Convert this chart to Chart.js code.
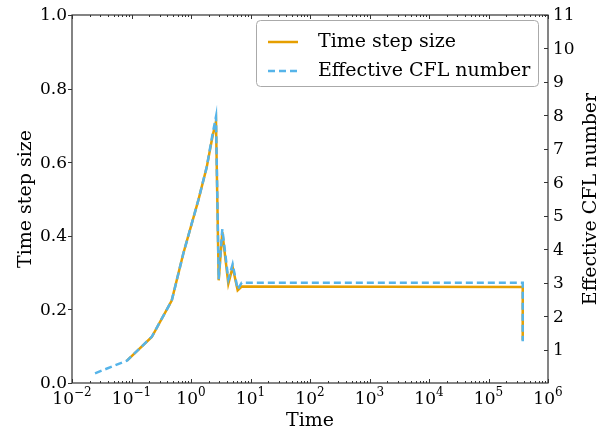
<!DOCTYPE html>
<html><head><meta charset="utf-8">
<script src="https://cdn.jsdelivr.net/npm/chart.js@4/dist/chart.umd.min.js"></script>
<style>html,body{margin:0;padding:0;background:#fff}#wrap{width:610px;height:437px;position:relative}</style>
</head><body><div id="wrap"><canvas id="c"></canvas></div>
<script>
const times = [0.0244, 0.084, 0.219, 0.474, 0.743, 1.33, 1.84, 2.31, 2.63, 2.92, 3.36, 4.24, 5.01, 6.09, 7.11, 3.76e5, 3.76e5];
const stepSize = [null, 0.061, 0.125, 0.224, 0.352, 0.497, 0.587, 0.672, 0.71, 0.279, 0.41, 0.27, 0.315, 0.252, 0.262, 0.261, 0.116];
const cflNumber = [0.29, 0.67, 1.38, 2.46, 3.87, 5.47, 6.46, 7.45, 7.96, 3.1, 4.6, 3.1, 3.55, 2.8, 3.0, 3.0, 1.25];
const xTickExponents = [-2, -1, 0, 1, 2, 3, 4, 5, 6];
const leftTicks = [0.0, 0.2, 0.4, 0.6, 0.8, 1.0];
const rightTicks = [1, 2, 3, 4, 5, 6, 7, 8, 9, 10, 11];
const seriesNames = ['Time step size', 'Effective CFL number'];
const axisTitles = {x: 'Time', y: 'Time step size', y2: 'Effective CFL number'};

const ORANGE = '#E69F00', BLUE = '#56B4E9';
const SERIF = "'DejaVu Serif', 'Liberation Serif', serif";

const decor = {
  id: 'decor',
  afterDraw(chart) {
    const ctx = chart.ctx, a = chart.chartArea;
    const sx = chart.scales.x, sy = chart.scales.y, sy2 = chart.scales.y2;
    ctx.save();
    ctx.strokeStyle = '#333';
    ctx.lineWidth = 1.2;
    ctx.strokeRect(a.left, a.top, a.right - a.left, a.bottom - a.top);
    ctx.lineWidth = 1;
    ctx.beginPath();
    // x ticks (inward, top & bottom)
    for (const e of xTickExponents) {
      const px = Math.round(sx.getPixelForValue(Math.pow(10, e))) + 0.5;
      ctx.moveTo(px, a.bottom); ctx.lineTo(px, a.bottom - 4);
      ctx.moveTo(px, a.top); ctx.lineTo(px, a.top + 4);
      if (e < 6) {
        for (let m = 2; m <= 9; m++) {
          const mx = Math.round(sx.getPixelForValue(m * Math.pow(10, e))) + 0.5;
          ctx.moveTo(mx, a.bottom); ctx.lineTo(mx, a.bottom - 2);
          ctx.moveTo(mx, a.top); ctx.lineTo(mx, a.top + 2);
        }
      }
    }
    // left ticks (outward)
    for (const v of leftTicks) {
      const py = Math.round(sy.getPixelForValue(v)) + 0.5;
      ctx.moveTo(a.left - 4, py); ctx.lineTo(a.left, py);
    }
    // right ticks (inward)
    for (const v of rightTicks) {
      const py = Math.round(sy2.getPixelForValue(v)) + 0.5;
      ctx.moveTo(a.right - 4, py); ctx.lineTo(a.right, py);
    }
    ctx.stroke();

    ctx.fillStyle = '#000';
    // x tick labels: 10^e
    for (const e of xTickExponents) {
      const px = sx.getPixelForValue(Math.pow(10, e));
      ctx.font = '17px ' + SERIF;
      const base = '10', sup = String(e).replace('-', '\u2212');
      const w1 = ctx.measureText(base).width;
      ctx.font = '12px ' + SERIF;
      const w2 = ctx.measureText(sup).width;
      const x0 = px - (w1 + w2) / 2;
      ctx.textAlign = 'left'; ctx.textBaseline = 'alphabetic';
      ctx.font = '17px ' + SERIF;
      ctx.fillText(base, x0, 404);
      ctx.font = '12px ' + SERIF;
      ctx.fillText(sup, x0 + w1, 396);
    }
    ctx.font = '17px ' + SERIF;
    ctx.textBaseline = 'middle';
    ctx.textAlign = 'right';
    for (const v of leftTicks) ctx.fillText(v.toFixed(1), a.left - 5, sy.getPixelForValue(v) + 1);
    ctx.textAlign = 'left';
    for (const v of rightTicks) ctx.fillText(String(v), a.right + 5, sy2.getPixelForValue(v) + 1);

    // axis titles
    ctx.font = '19px ' + SERIF;
    ctx.textAlign = 'center';
    ctx.fillText(axisTitles.x, (a.left + a.right) / 2, 421);
    const cy = (a.top + a.bottom) / 2;
    ctx.save(); ctx.translate(26, cy); ctx.rotate(-Math.PI / 2); ctx.fillText(axisTitles.y, 0, 0); ctx.restore();
    ctx.save(); ctx.translate(591, cy); ctx.rotate(-Math.PI / 2); ctx.fillText(axisTitles.y2, 0, 0); ctx.restore();

    // legend
    ctx.beginPath();
    ctx.roundRect(256.5, 20.5, 282, 66, 4);
    ctx.fillStyle = '#fff'; ctx.fill();
    ctx.strokeStyle = '#aaa'; ctx.lineWidth = 1; ctx.stroke();
    ctx.lineWidth = 2.5;
    ctx.strokeStyle = ORANGE;
    ctx.beginPath(); ctx.moveTo(268, 42); ctx.lineTo(298, 42); ctx.stroke();
    ctx.strokeStyle = BLUE; ctx.setLineDash([7, 4]);
    ctx.beginPath(); ctx.moveTo(268, 71); ctx.lineTo(298, 71); ctx.stroke();
    ctx.setLineDash([]);
    ctx.fillStyle = '#000';
    ctx.font = '19px ' + SERIF;
    ctx.textAlign = 'left'; ctx.textBaseline = 'middle';
    ctx.fillText(seriesNames[0], 318, 42);
    ctx.fillText(seriesNames[1], 318, 71);
    ctx.restore();
  }
};

new Chart(document.getElementById('c'), {
  type: 'line',
  data: {
    datasets: [
      {
        label: seriesNames[1],
        data: times.map((t, i) => ({x: t, y: cflNumber[i]})),
        yAxisID: 'y2', borderColor: BLUE, borderWidth: 2.5, borderDash: [7, 4],
        pointRadius: 0, tension: 0, fill: false, order: 0
      },
      {
        label: seriesNames[0],
        data: times.map((t, i) => ({x: t, y: stepSize[i]})),
        yAxisID: 'y', borderColor: ORANGE, borderWidth: 2.5,
        pointRadius: 0, tension: 0, fill: false, order: 1
      }
    ]
  },
  options: {
    responsive: true, maintainAspectRatio: false, animation: false,
    layout: {padding: {left: 72, right: 62, top: 15, bottom: 54}},
    plugins: {legend: {display: false}, tooltip: {enabled: false}},
    scales: {
      x: {type: 'logarithmic', min: 0.01, max: 1e6, display: false},
      y: {type: 'linear', min: 0, max: 1, display: false},
      y2: {type: 'linear', min: 0, max: 11, display: false, position: 'right'}
    }
  },
  plugins: [decor]
});
</script></body></html>
